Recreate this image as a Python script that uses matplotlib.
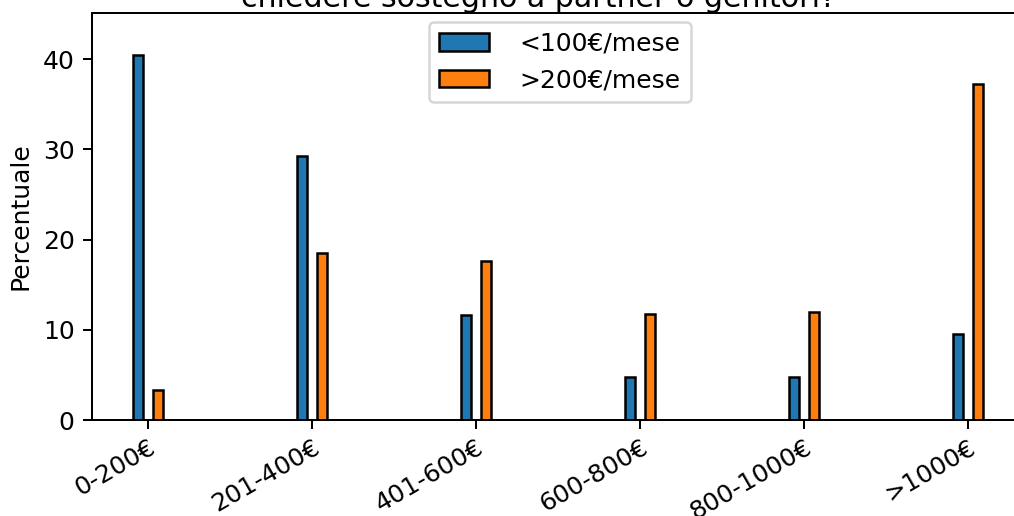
# bar chart: monthly amount vs income bracket
import numpy as np
import matplotlib.pyplot as plt

categories = ["0-200€", "201-400€", "401-600€", "600-800€", "800-1000€", ">1000€"]
meno_100 = [40.5, 29.3, 11.6, 4.8, 4.8, 9.5]
piu_200 = [3.3, 18.5, 17.6, 11.8, 12.0, 37.2]
labels = ["<100€/mese", ">200€/mese"]
title = "chiedere sostegno a partner o genitori?"


def main():
    dpi = 180
    fig = plt.figure(figsize=(1014 / dpi, 516 / dpi), dpi=dpi)
    ax = fig.add_axes([92 / 1014, 96 / 516, 936 / 1014, 407 / 516])

    x = np.arange(len(categories))
    width = 0.06
    ax.bar(x - 0.06, meno_100, width, color="#1f77b4", edgecolor="black", label=labels[0])
    ax.bar(x + 0.06, piu_200, width, color="#ff7f0e", edgecolor="black", label=labels[1])

    ax.set_xticks(x)
    ax.set_xticklabels(categories, rotation=30, ha="right", rotation_mode="anchor")
    ax.tick_params(axis="x", pad=2.5)
    ax.set_xlim(-0.34, 5.366)
    ax.set_ylim(0, 45.1)
    ax.set_yticks([0, 10, 20, 30, 40])
    ax.set_ylabel("Percentuale")
    ax.set_title(title, x=0.4776, pad=0.6)
    ax.legend(loc="upper center", handletextpad=1.2, borderaxespad=0.35)

    fig.savefig("out.png", dpi=dpi)


if __name__ == "__main__":
    main()
